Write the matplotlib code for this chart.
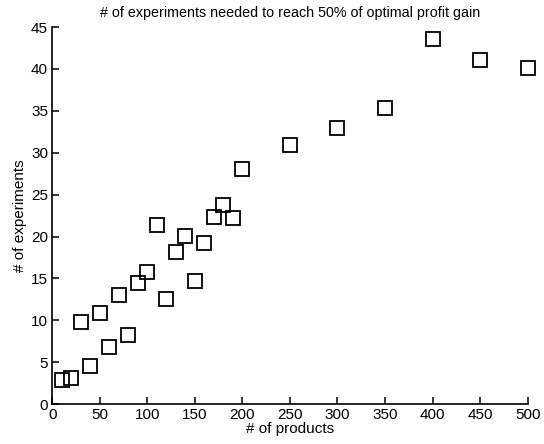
import matplotlib
matplotlib.use('Agg')
import matplotlib.pyplot as plt

# number of products vs experiments needed
products = [10, 20, 30, 40, 50, 60, 70, 80, 90, 100,
            110, 120, 130, 140, 150, 160, 170, 180, 190, 200,
            250, 300, 350, 400, 450, 500]
experiments = [2.9, 3.1, 9.8, 4.5, 10.9, 6.8, 13.0, 8.3, 14.4, 15.8,
               21.4, 12.5, 18.2, 20.1, 14.7, 19.2, 22.3, 23.8, 22.2, 28.0,
               30.9, 33.0, 35.3, 43.6, 41.1, 40.1]

plt.rcParams['font.family'] = ['Liberation Sans', 'DejaVu Sans']

fig = plt.figure(figsize=(5.44, 4.44), dpi=100)
fig.patch.set_facecolor('white')
ax = fig.add_axes([0.096, 0.09, 0.874, 0.849])

ax.plot(products, experiments, linestyle='none', marker='s', markersize=9.5,
        markerfacecolor='none', markeredgecolor='black', markeredgewidth=1.3,
        clip_on=False)

ax.set_xlim(0, 500)
ax.set_ylim(0, 45)
ax.set_xticks(range(0, 501, 50))
ax.set_yticks(range(0, 46, 5))
ax.tick_params(direction='in', length=5, width=1.1, labelsize=11, pad=3)

ax.spines['top'].set_visible(False)
ax.spines['right'].set_visible(False)
ax.spines['left'].set_linewidth(1.2)
ax.spines['bottom'].set_linewidth(1.2)

ax.set_xlabel('# of products', fontsize=11, labelpad=0)
ax.set_ylabel('# of experiments', fontsize=11, labelpad=3)
ax.set_title('# of experiments needed to reach 50% of optimal profit gain',
             fontsize=10.3, pad=7)

fig.savefig('out.png', dpi=100)
